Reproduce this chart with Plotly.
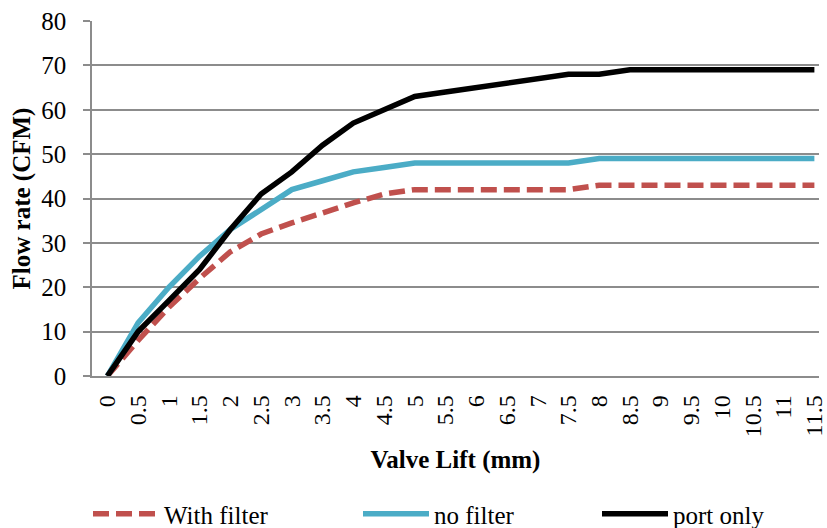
import plotly.graph_objects as go

lift = ["0", "0.5", "1", "1.5", "2", "2.5", "3", "3.5", "4", "4.5", "5", "5.5",
        "6", "6.5", "7", "7.5", "8", "8.5", "9", "9.5", "10", "10.5", "11", "11.5"]
with_filter = [0, 8, 15.5, 22, 28, 32, 34.5, 36.8, 39, 41, 42, 42, 42, 42, 42, 42,
               43, 43, 43, 43, 43, 43, 43, 43]
no_filter = [0, 12, 20, 27, 33, 37.5, 42, 44, 46, 47, 48, 48, 48, 48, 48, 48,
             49, 49, 49, 49, 49, 49, 49, 49]
port_only = [0, 10, 17, 24, 33, 41, 46, 52, 57, 60, 63, 64, 65, 66, 67, 68,
             68, 69, 69, 69, 69, 69, 69, 69]

FONT = "Liberation Serif, Times New Roman, serif"
GRID = "#8c8c8c"
LW = 5.5

fig = go.Figure()
fig.add_trace(go.Scatter(x=lift, y=with_filter, mode="lines", name="With filter",
                         line=dict(color="#C0504D", width=LW, dash="16px,7px"),
                         legend="legend"))
fig.add_trace(go.Scatter(x=lift, y=no_filter, mode="lines", name="no filter",
                         line=dict(color="#4BACC6", width=LW), legend="legend2"))
fig.add_trace(go.Scatter(x=lift, y=port_only, mode="lines", name="port only",
                         line=dict(color="#000000", width=LW), legend="legend3"))

leg_common = dict(orientation="h", yref="container", xref="container",
                  yanchor="middle", xanchor="left", y=(528 - 514) / 528,
                  itemwidth=66,
                  font=dict(family=FONT, size=25, color="#000"),
                  bgcolor="rgba(0,0,0,0)")

fig.update_layout(
    width=827, height=528,
    margin=dict(l=92, r=0, t=21, b=152),
    paper_bgcolor="white", plot_bgcolor="white",
    font=dict(family=FONT, color="#000"),
    xaxis=dict(type="category", range=[-0.5, 23.15], tickangle=-90,
               showgrid=False, showline=True, linecolor=GRID, linewidth=1.5,
               ticks="", tickfont=dict(family=FONT, size=24, color="#000"),
               ticklabelstandoff=8,
               title=dict(text="<b>Valve Lift (mm)</b>",
                          font=dict(family=FONT, size=25, color="#000"),
                          standoff=14)),
    yaxis=dict(range=[0, 80], dtick=10, showgrid=True, gridcolor=GRID,
               gridwidth=1.5, showline=True, linecolor=GRID, linewidth=1.5,
               ticks="outside", ticklen=7, tickcolor=GRID, tickwidth=1.5,
               zeroline=False,
               tickfont=dict(family=FONT, size=25, color="#000"),
               ticklabelstandoff=12,
               title=dict(text="<b>Flow rate (CFM)</b>",
                          font=dict(family=FONT, size=25, color="#000"),
                          standoff=4)),
    legend=dict(leg_common, x=88 / 827),
    legend2=dict(leg_common, x=358 / 827),
    legend3=dict(leg_common, x=597 / 827),
    showlegend=True,
)

fig.write_html("out.html", config={"displayModeBar": False},
               post_script="document.body.style.margin='0';document.body.style.overflow='hidden';")
